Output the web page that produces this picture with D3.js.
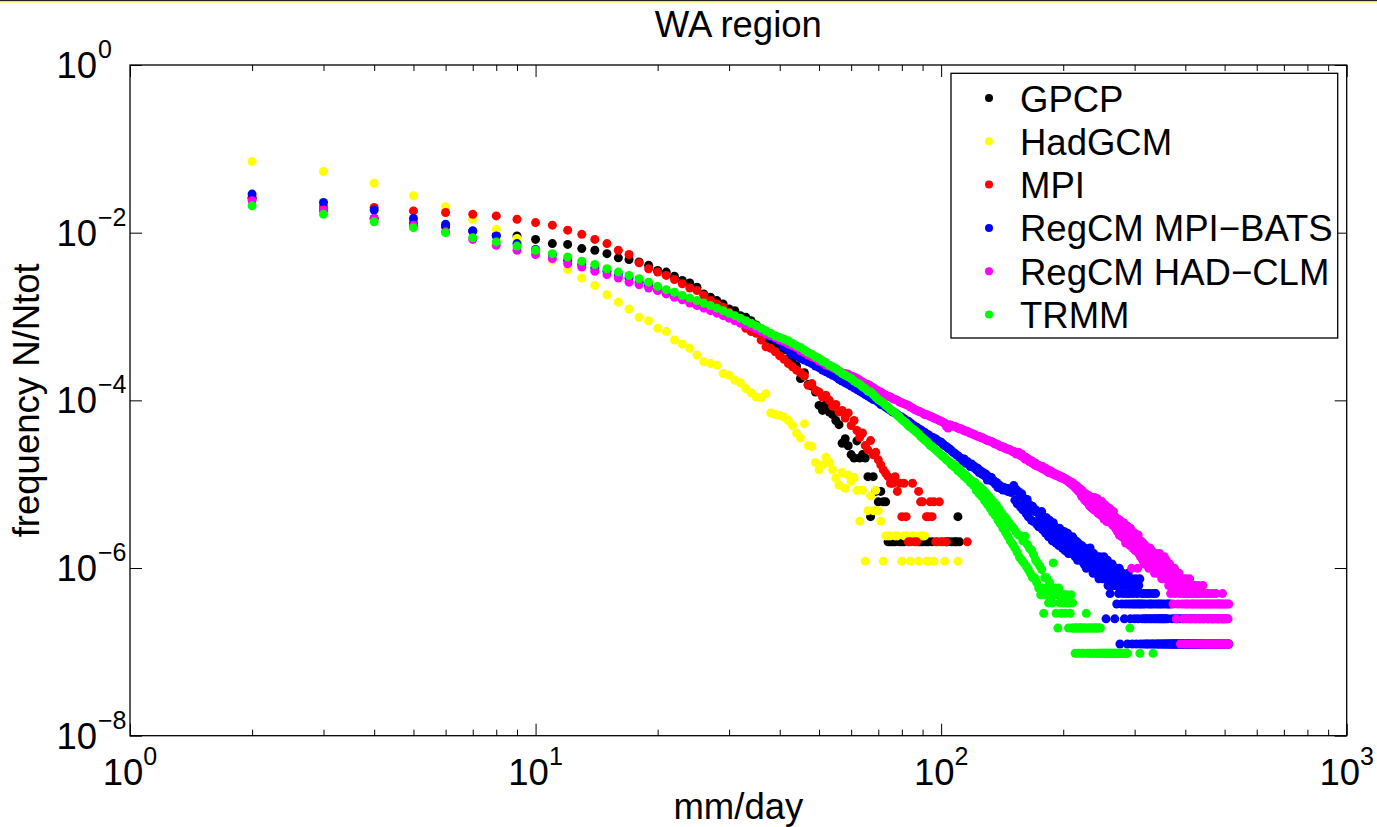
<!DOCTYPE html>
<html>
<head>
<meta charset="utf-8">
<script src="https://cdn.jsdelivr.net/npm/d3@7"></script>
<style>
  body { margin: 0; background: #fff; }
  svg text { font-family: "Liberation Sans", Arial, Helvetica, sans-serif; fill: #000; }
</style>
</head>
<body>
<div id="chart"></div>
<script>
// Daily rainfall frequency distribution, WA region (log-log)
const width = 1377;
const height = 827;

// rainfall bins are integer mm/day starting at 2
const firstX = 2;

const seriesNames = ["GPCP", "HadGCM", "MPI", "RegCM MPI\u2212BATS", "RegCM HAD\u2212CLM", "TRMM"];
const seriesColors = ["#000000", "#ffff00", "#ff0000", "#0000ff", "#ff00ff", "#00ff00"];
const xTickExps = [0, 1, 2, 3];
const yTickExps = [-8, -6, -4, -2, 0];

// head = log10(N/Ntot) for the first bins, tail = raw counts N for the following bins
const gpcpHead = [-1.59,-1.73,-1.83,-1.89,-1.93,-1.98,-2.03,-2.04,-2.08,-2.13,
  -2.14,-2.19,-2.21,-2.25,-2.30,-2.32,-2.35,-2.39,-2.45,-2.47,
  -2.52,-2.57,-2.60,-2.65,-2.73,-2.77,-2.81,-2.85,-2.91,-2.93,
  -2.99,-3.01,-3.05,-3.10,-3.17,-3.26,-3.32,-3.37,-3.36,-3.40,
  -3.50,-3.55,-3.59,-3.74,-3.67,-3.81,-3.83,-3.90,-4.06,-4.12,
  -4.05,-4.14,-4.17,-4.24];
const gpcpTail = [25,15,17,14,11,10,16,10,11,10,6,2,6,4,3,4,3,3,1,1,
  1,1,0,1,1,1,0,0,0,0,0,0,1,1,1,0,1,1,0,1,
  0,0,0,0,0,0,0,1,1,0,1,0,1,1,2,1];
const gpcpTotal = 4.875e5;

const hadHead = [-1.15,-1.27,-1.41,-1.56,-1.69,-1.84,-1.96,-2.07,-2.21,-2.33,
  -2.44,-2.54,-2.63,-2.74,-2.83,-2.91,-3.01,-3.05,-3.14,-3.18,
  -3.28,-3.33,-3.38,-3.46,-3.54,-3.56,-3.58,-3.68,-3.70,-3.76,
  -3.79,-3.86,-3.91,-3.96,-3.97,-3.92,-4.15,-4.17,-4.18,-4.20,
  -4.24,-4.30,-4.39,-4.45,-4.28,-4.54,-4.55,-4.74,-4.83,-4.77,
  -4.68,-4.74,-4.83,-4.93,-5.01,-4.86,-5.05,-4.89];
const hadTail = [9,10,7,3,7,1,4,6,4,7,4,3,1,2,2,2,0,2,2,0,
  1,2,2,0,1,2,2,0,1,2,2,2,1,1,0,0,1,0,0,0,
  0,0,1,0,0,0,0,0,0,0,1];
const hadTotal = 8.28e5;

const mpiHead = [-1.58,-1.69,-1.70,-1.74,-1.76,-1.78,-1.80,-1.84,-1.88,-1.91,
  -1.97,-2.02,-2.08,-2.13,-2.21,-2.26,-2.36,-2.43,-2.47,-2.51,
  -2.56,-2.61,-2.66,-2.69,-2.75,-2.81,-2.85,-2.89,-2.95,-3.01,
  -3.07,-3.14,-3.18,-3.20,-3.28,-3.36,-3.38,-3.42,-3.47,-3.51,
  -3.56,-3.60,-3.64,-3.67,-3.71,-3.82,-3.80,-3.88,-3.90,-3.96,
  -3.94,-4.00,-4.07,-4.05,-4.14,-4.12,-4.21,-4.15,-4.30,-4.24,
  -4.36,-4.44,-4.39,-4.54,-4.59,-4.48,-4.65,-4.62,-4.71,-4.77,
  -4.83,-4.87];
const mpiTail = [6,5,5,6,4,5,2,5,2,1,1,5,1,1,4,3,3,0,2,2,
  3,2,3,1,1,3,1,1,0,1,0,0,0,0,0,0,0,0,0,0,
  0,0,1];
const mpiTotal = 4.875e5;

const batsHead = [-1.54,-1.64,-1.73,-1.83,-1.90,-1.98,-2.04,-2.13,-2.20,-2.26,
  -2.33,-2.38,-2.42,-2.46,-2.50,-2.54,-2.59,-2.63,-2.68,-2.71,
  -2.75,-2.78,-2.82,-2.85,-2.88,-2.91,-2.94,-2.97,-3.00,-3.03,
  -3.06,-3.09,-3.12,-3.15,-3.18,-3.21,-3.24,-3.27,-3.30,-3.36,
  -3.40,-3.45,-3.47,-3.50,-3.52,-3.54,-3.56,-3.59,-3.61,-3.64,
  -3.66,-3.68,-3.70,-3.72,-3.75,-3.77,-3.79,-3.81,-3.83,-3.85,
  -3.87,-3.89,-3.91,-3.93,-3.95,-3.97,-3.99,-4.00,-4.02,-4.05,
  -4.06,-4.08,-4.10,-4.12,-4.14,-4.15,-4.17,-4.19,-4.20,-4.22,
  -4.24,-4.25,-4.27,-4.29,-4.31,-4.32,-4.34,-4.35,-4.37,-4.38,
  -4.40,-4.41,-4.43,-4.44,-4.45,-4.46,-4.48,-4.49,-4.50,-4.52,
  -4.54,-4.55,-4.57,-4.58,-4.60,-4.62,-4.63,-4.65,-4.66,-4.68,
  -4.69,-4.72,-4.70,-4.75,-4.73,-4.76,-4.79,-4.76,-4.80,-4.79,
  -4.83,-4.81,-4.86,-4.84,-4.88,-4.86,-4.90,-4.88,-4.95,-4.91,
  -4.95,-4.92,-4.97,-4.96,-5.00,-4.98,-5.04,-5.01,-5.05,-5.03,
  -5.07,-5.04,-5.06,-5.08,-5.05,-5.09,-5.07,-5.10,-5.08];
const batsTail = [78,52,70,47,66,58,43,62,40,55,50,36,53,33,46,41,30,44,29,38,
  40,27,37,25,34,29,38,23,33,26,21,32,24,19,30,22,27,17,28,20,
  25,16,23,19,15,24,17,21,14,19,22,13,18,15,21,12,19,14,17,12,
  19,12,16,11,17,13,10,16,12,15,10,15,11,13,9,14,11,8,13,10,
  12,9,14,8,11,10,7,12,9,11,7,11,8,10,6,11,8,7,10,6,
  9,11,6,9,2,8,10,5,7,9,4,8,6,9,5,7,6,2,5,8,
  3,7,5,4,8,1,6,5,3,7,4,6,2,6,3,5,4,1,7,3,
  4,5,2,3,6,1,4,3,5,2,3,6,1,4,3,2,5,3,6,1,
  3,4,2,3,1,4,2,3,1,2,4,1,2,3,1,4,2,3,1,2,
  3,1,4,2,1,3,2,4,1,2,3,1,2,1,3,2,1,2,3,1,
  2,1,2,3,1,2,1,2,1,3,1,2,1,3,1,0,1,3,1,1,
  2,1,0,1,1,1,2,1,0,1,1,2,1,1,0,1,1,2,1,0,
  1,1,1,2,0,1,1,0,1,1,2,1,0,1,1,1,0,1,2,1,
  1,0,1,1,2,1,0,1,1,1,0,1,2,1,1,0,1,1,0,1,
  1,1,0,2,1,1,0,1,1,0,1,1,2,0,1,1,0,1,1,1,
  0,1,1,0,2,1,1,0,1,1,1,0,1,1,0,1,2,1,0,1,
  1,1,0,1,1,0,1,1,1,0,1,2,1,0,1,1,0,1,1,0,
  1,1,0,1,2,1,0,1,1,0,1,0,1,1,0,1,1,0,1,1,
  0,1];
const batsTotal = 8.07e6;

const clmHead = [-1.62,-1.73,-1.83,-1.91,-1.99,-2.08,-2.15,-2.21,-2.26,-2.31,
  -2.37,-2.41,-2.46,-2.50,-2.54,-2.59,-2.62,-2.66,-2.69,-2.73,
  -2.77,-2.80,-2.84,-2.87,-2.90,-2.93,-2.96,-2.99,-3.02,-3.05,
  -3.08,-3.10,-3.12,-3.15,-3.18,-3.21,-3.23,-3.25,-3.28,-3.30,
  -3.33,-3.35,-3.37,-3.41,-3.43,-3.46,-3.48,-3.50,-3.53,-3.55,
  -3.58,-3.59,-3.61,-3.63,-3.65,-3.67,-3.68,-3.69,-3.71,-3.72,
  -3.74,-3.76,-3.78,-3.80,-3.81,-3.83,-3.85,-3.87,-3.89,-3.90,
  -3.92,-3.94,-3.95,-3.96,-3.98,-3.99,-4.00,-4.02,-4.03,-4.04,
  -4.05,-4.06,-4.08,-4.09,-4.11,-4.12,-4.13,-4.14,-4.15,-4.17,
  -4.17,-4.18,-4.19,-4.20,-4.21,-4.22,-4.23,-4.24,-4.25,-4.26,
  -4.27,-4.31,-4.33,-4.29,-4.30,-4.31,-4.31,-4.32,-4.33,-4.34,
  -4.34,-4.35,-4.36,-4.37,-4.37,-4.38,-4.39,-4.40,-4.40,-4.41,
  -4.42,-4.43,-4.43,-4.44,-4.45,-4.45,-4.46,-4.47,-4.48,-4.48,
  -4.49,-4.49,-4.50,-4.51,-4.52,-4.52,-4.53,-4.54,-4.55,-4.55,
  -4.56,-4.56,-4.57,-4.58,-4.58,-4.59,-4.59,-4.60,-4.61,-4.61,
  -4.62,-4.64,-4.63,-4.62,-4.65,-4.66,-4.64,-4.67,-4.68,-4.70,
  -4.68,-4.71,-4.70,-4.73,-4.72,-4.72,-4.75,-4.74,-4.77,-4.75,
  -4.78,-4.77,-4.79,-4.78,-4.80,-4.81,-4.79,-4.82,-4.83,-4.81,
  -4.84,-4.83,-4.86,-4.85,-4.84,-4.87,-4.86,-4.88,-4.87,-4.89,
  -4.88,-4.90,-4.89,-4.91,-4.90,-4.92,-4.91,-4.93,-4.92];
const clmTail = [95,92,93,89,90,86,88,83,85,80,84,77,80,73,78,70,75,67,72,64,
  70,58,67,56,64,52,62,50,60,49,59,45,57,43,55,42,53,40,56,44,
  51,38,54,36,49,41,47,34,50,39,44,31,46,35,40,29,43,33,38,30,
  41,28,36,31,26,38,27,33,24,32,29,22,31,25,20,30,23,27,19,26,
  22,28,18,24,16,26,20,17,25,19,21,15,24,18,8,22,14,19,16,21,
  13,19,15,17,8,20,12,16,14,11,17,12,15,10,16,13,9,15,12,14,
  10,14,11,13,8,12,14,9,12,10,13,8,11,10,12,7,11,9,12,8,
  10,7,11,9,8,12,7,10,9,6,10,8,6,9,11,7,8,6,10,7,
  9,7,8,5,7,9,6,4,8,6,7,5,3,7,6,8,4,6,5,2,
  7,5,6,3,5,7,4,6,1,5,6,3,5,4,2,6,5,3,4,1,
  5,6,3,4,2,5,3,4,1,6,4,2,5,3,4,1,3,5,2,4,
  3,1,5,2,4,3,1,4,2,3,5,1,2,4,3,1,2,4,3,1,
  2,5,3,1,2,4,1,3,2,1,3,4,1,2,3,1,2,4,1,3,
  2,1,3,2,1,4,2,1,3,2,1,2,3,1,2,4,1,2,3,1,
  2,1,3,2,1,2,3,1,2,1,3,2,1,4,2,1,3,2,1,2,
  1,3,2,1,2,1,3,2,1,2,1,3];
const clmTotal = 8.07e6;

const trmmHead = [-1.68,-1.78,-1.87,-1.94,-2.00,-2.06,-2.11,-2.16,-2.21,-2.25,
  -2.29,-2.34,-2.38,-2.43,-2.47,-2.51,-2.55,-2.59,-2.64,-2.68,
  -2.71,-2.75,-2.78,-2.81,-2.84,-2.87,-2.90,-2.93,-2.96,-2.99,
  -3.02,-3.05,-3.08,-3.11,-3.14,-3.17,-3.20,-3.23,-3.25,-3.27,
  -3.29,-3.32,-3.35,-3.37,-3.40,-3.43,-3.45,-3.48,-3.50,-3.53,
  -3.55,-3.58,-3.60,-3.62,-3.65,-3.68,-3.70,-3.72,-3.74,-3.77,
  -3.79,-3.81,-3.84,-3.86,-3.89,-3.90,-3.93,-3.96,-3.99,-4.01,
  -4.03,-4.06,-4.08,-4.11,-4.13,-4.15,-4.18,-4.20,-4.23,-4.25,
  -4.27,-4.30,-4.32,-4.34,-4.36,-4.38,-4.40,-4.43,-4.45,-4.47,
  -4.49,-4.51,-4.54,-4.55,-4.57,-4.59,-4.61,-4.63,-4.65,-4.67,
  -4.68,-4.71,-4.72,-4.74,-4.77,-4.76,-4.80,-4.79,-4.84,-4.82,
  -4.87,-4.86,-4.91,-4.89,-4.94,-4.93,-4.98,-4.96,-5.01];
const trmmTail = [110,88,100,80,95,74,88,66,82,60,75,54,68,48,63,44,58,39,52,35,
  47,31,43,28,40,25,36,22,33,20,31,18,28,16,26,14,25,13,22,12,
  25,11,20,10,18,9,17,8,15,8,13,7,12,6,11,5,10,6,3,8,
  5,8,6,4,7,5,6,4,12,5,6,3,5,2,6,4,5,3,5,4,
  5,3,4,5,4,2,4,3,5,2,4,2,2,1,2,2,1,2,2,1,
  2,2,1,2,1,2,2,3,1,2,2,1,2,1,2,2,1,2,1,2,
  2,1,2,1,2,1,2,1,1,1,0,1,1,1,0,1,1,0,1,1,
  0,1,1,0,1,0,1,1,0,1,1,0,1,1,0,1,0,1,1,0,
  1,0,1,1,0,1,0,1,0,0,0,2,0,0,0,0,0,0,0,0,
  0,0,0,0,0,0,0,0,1,0,0,0,0,0,0,0,0,0,0,0,
  0,0,0,0,0,0,0,0,0,0,0,0,1];
const trmmTotal = 1.042e7;

const heads = [gpcpHead, hadHead, mpiHead, batsHead, clmHead, trmmHead];
const tails = [gpcpTail, hadTail, mpiTail, batsTail, clmTail, trmmTail];
const totals = [gpcpTotal, hadTotal, mpiTotal, batsTotal, clmTotal, trmmTotal];

function buildPoints(head, tail, total) {
    const pts = [];
    head.forEach((v, i) => pts.push({ x: firstX + i, y: Math.pow(10, v) }));
    tail.forEach((n, j) => {
        if (n > 0) pts.push({ x: firstX + head.length + j, y: n / total });
    });
    return pts;
}

const series = seriesNames.map((name, i) => ({
    name: name,
    color: seriesColors[i],
    points: buildPoints(heads[i], tails[i], totals[i])
}));

const plotLeft = 130, plotRight = 1346.7, plotTop = 65, plotBottom = 735.7;

const x = d3.scaleLog().domain([1, 1000]).range([plotLeft, plotRight]);
const y = d3.scaleLog().domain([1e-8, 1]).range([plotBottom, plotTop]);

const svg = d3.select("#chart")
    .append("svg")
    .attr("width", width)
    .attr("height", height)
    .style("display", "block");

svg.append("rect").attr("width", width).attr("height", height).attr("fill", "#fff");

// thin window edge at the very top
svg.append("rect").attr("x", 0).attr("y", 0).attr("width", width).attr("height", 1).attr("fill", "#222");
svg.append("rect").attr("x", 0).attr("y", 1).attr("width", width).attr("height", 1.4).attr("fill", "#ffee00");

// dots
const dots = svg.append("g");
series.forEach(s => {
    dots.append("g")
        .attr("fill", s.color)
        .selectAll("circle")
        .data(s.points)
        .enter()
        .append("circle")
        .attr("cx", d => x(d.x))
        .attr("cy", d => y(d.y))
        .attr("r", 4.5);
});

// ticks
const xMajor = xTickExps.map(e => Math.pow(10, e));
const xMinor = [];
for (let e = 0; e < 3; e++) {
    for (let k = 2; k <= 9; k++) xMinor.push(k * Math.pow(10, e));
}
const yMajor = yTickExps.map(e => Math.pow(10, e));

function styleAxis(g) {
    g.select(".domain").remove();
    g.selectAll("line").attr("stroke", "#000").attr("stroke-width", 1);
}

svg.append("g").attr("transform", `translate(0,${plotBottom})`)
    .call(d3.axisBottom(x).tickValues(xMinor).tickSize(-6).tickFormat(""))
    .call(styleAxis);
svg.append("g").attr("transform", `translate(0,${plotBottom})`)
    .call(d3.axisBottom(x).tickValues(xMajor).tickSize(-12).tickFormat(""))
    .call(styleAxis);
svg.append("g").attr("transform", `translate(0,${plotTop})`)
    .call(d3.axisTop(x).tickValues(xMinor).tickSize(-6).tickFormat(""))
    .call(styleAxis);
svg.append("g").attr("transform", `translate(0,${plotTop})`)
    .call(d3.axisTop(x).tickValues(xMajor).tickSize(-12).tickFormat(""))
    .call(styleAxis);
svg.append("g").attr("transform", `translate(${plotLeft},0)`)
    .call(d3.axisLeft(y).tickValues(yMajor).tickSize(-12).tickFormat(""))
    .call(styleAxis);
svg.append("g").attr("transform", `translate(${plotRight},0)`)
    .call(d3.axisRight(y).tickValues(yMajor).tickSize(-12).tickFormat(""))
    .call(styleAxis);

// frame
svg.append("rect")
    .attr("x", plotLeft).attr("y", plotTop)
    .attr("width", plotRight - plotLeft).attr("height", plotBottom - plotTop)
    .attr("fill", "none").attr("stroke", "#000").attr("stroke-width", 1.3);

const fontSize = 36.5;
const supSize = 25;

// x tick labels 10^k
xTickExps.forEach(e => {
    const t = svg.append("text")
        .attr("x", x(Math.pow(10, e)))
        .attr("y", 785)
        .attr("text-anchor", "middle")
        .style("font-size", fontSize + "px");
    t.append("tspan").text("10");
    t.append("tspan").attr("dy", -20).style("font-size", supSize + "px").text(String(e).replace("-", "\u2212"));
});

// y tick labels 10^k
yTickExps.forEach(e => {
    const yy = y(Math.pow(10, e)) + 13;
    svg.append("text")
        .attr("x", 97).attr("y", yy)
        .attr("text-anchor", "end")
        .style("font-size", fontSize + "px")
        .text("10");
    svg.append("text")
        .attr("x", 98).attr("y", yy - 20)
        .style("font-size", supSize + "px")
        .text(String(e).replace("-", "\u2212"));
});

// title and axis labels
svg.append("text")
    .attr("x", (plotLeft + plotRight) / 2).attr("y", 37)
    .attr("text-anchor", "middle")
    .style("font-size", fontSize + "px")
    .text("WA region");

svg.append("text")
    .attr("x", (plotLeft + plotRight) / 2).attr("y", 819)
    .attr("text-anchor", "middle")
    .style("font-size", fontSize + "px")
    .text("mm/day");

svg.append("text")
    .attr("transform", `translate(39,${(plotTop + plotBottom) / 2}) rotate(-90)`)
    .attr("text-anchor", "middle")
    .style("font-size", fontSize + "px")
    .text("frequency N/Ntot");

// legend
const legend = svg.append("g");
legend.append("rect")
    .attr("x", 951).attr("y", 73.3)
    .attr("width", 386.7).attr("height", 264.7)
    .attr("fill", "#fff").attr("stroke", "#000").attr("stroke-width", 1.3);

const legendRow = legend.selectAll("g.entry")
    .data(series)
    .enter()
    .append("g")
    .attr("class", "entry")
    .attr("transform", (d, i) => `translate(0,${98 + i * 43.3})`);

legendRow.append("circle")
    .attr("cx", 989).attr("cy", 0).attr("r", 4)
    .attr("fill", d => d.color);

legendRow.append("text")
    .attr("x", 1020).attr("y", 13.5)
    .style("font-size", fontSize + "px")
    .text(d => d.name);
</script>
</body>
</html>
